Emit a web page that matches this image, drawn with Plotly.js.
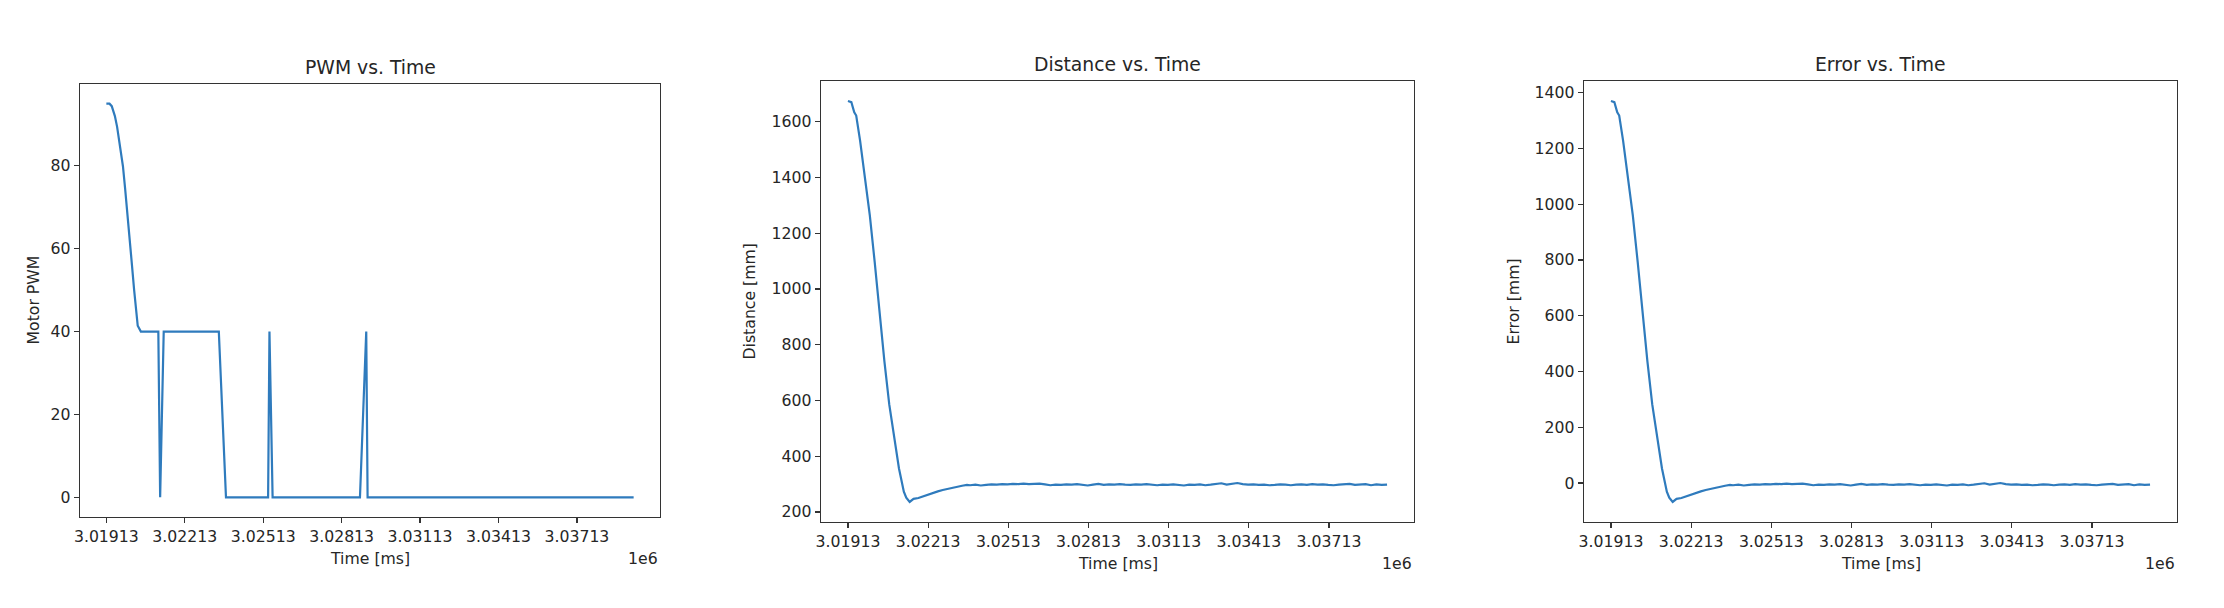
<!DOCTYPE html>
<html>
<head>
<meta charset="utf-8">
<script src="https://cdn.plot.ly/plotly-3.0.1.min.js"></script>
<style>
  html, body { margin: 0; padding: 0; background: #ffffff; }
  #chart { width: 2224px; height: 608px; }
</style>
</head>
<body>
<div id="chart"></div>
<script>
// ---------------- data ----------------
const pwmTime = [3019130, 3019250, 3019336, 3019456, 3019541, 3019650, 3019764, 3019850, 3019930, 3020021,
  3020110, 3020193, 3020270, 3020330, 3020450, 3020700, 3020950, 3021118, 3021187, 3021324,
  3021600, 3022000, 3022400, 3022800, 3023200, 3023432, 3023706, 3024200, 3024800, 3025317,
  3025369, 3025489, 3026000, 3027000, 3028000, 3028831, 3029071, 3029123, 3030000, 3032000,
  3034000, 3036000, 3038000, 3039300];
const pwmValues = [95, 95, 94.4, 92, 89.4, 85, 79.9, 74.3, 68, 62.2,
  56, 50, 45, 41.4, 40, 40, 40, 40, 0, 40,
  40, 40, 40, 40, 40, 40, 0, 0, 0, 0,
  40, 0, 0, 0, 0, 0, 40, 0, 0, 0,
  0, 0, 0, 0];

const sensorTime = [3019130, 3019257, 3019366, 3019439, 3019584, 3019766, 3019948, 3020130, 3020312, 3020494,
  3020675, 3020857, 3021039, 3021221, 3021312, 3021439, 3021584, 3021766, 3021948, 3022130,
  3022311, 3022493, 3022675, 3022857, 3023039, 3023220, 3023402, 3023584,
  3023700, 3023900, 3024100, 3024300, 3024500, 3024700, 3024900, 3025100, 3025300, 3025500,
  3025700, 3025900, 3026100, 3026300, 3026500, 3026700, 3026900, 3027100, 3027300, 3027500,
  3027700, 3027900, 3028100, 3028300, 3028500, 3028700, 3028900, 3029100, 3029300, 3029500,
  3029700, 3029900, 3030100, 3030300, 3030500, 3030700, 3030900, 3031100, 3031300, 3031500,
  3031700, 3031900, 3032100, 3032300, 3032500, 3032700, 3032900, 3033100, 3033300, 3033500,
  3033700, 3033900, 3034100, 3034300, 3034500, 3034700, 3034900, 3035100, 3035300, 3035500,
  3035700, 3035900, 3036100, 3036300, 3036500, 3036700, 3036900, 3037100, 3037300, 3037500,
  3037700, 3037900, 3038100, 3038300, 3038500, 3038700, 3038900, 3039100, 3039300];

const distanceValues = [1674, 1670, 1634, 1622, 1532, 1404, 1264, 1097, 906, 740,
  586, 471, 356, 273, 251, 236, 247, 250, 256, 262,
  270, 274, 279, 283, 288, 292, 294, 297,
  296, 298, 295, 297, 299, 298, 300, 299, 301, 300,
  302, 300, 301, 302, 299, 296, 298, 297, 299, 298,
  300, 297, 295, 298, 301, 297, 299, 298, 300, 298,
  297, 299, 298, 300, 297, 296, 298, 297, 299, 297,
  295, 298, 297, 299, 296, 298, 300, 303, 298, 300,
  304, 300, 298, 299, 297, 298, 296, 297, 299, 298,
  296, 298, 299, 297, 300, 298, 299, 297, 296, 298,
  300, 301, 297, 298, 300, 296, 299, 297, 298];

const errorValues = [1370, 1366, 1330, 1318, 1228, 1100, 960, 793, 602, 436,
  282, 167, 52, -31, -53, -68, -57, -54, -48, -42,
  -34, -30, -25, -21, -16, -12, -10, -7,
  -8, -6, -9, -7, -5, -6, -4, -5, -3, -4,
  -2, -4, -3, -2, -5, -8, -6, -7, -5, -6,
  -4, -7, -9, -6, -3, -7, -5, -6, -4, -6,
  -7, -5, -6, -4, -7, -8, -6, -7, -5, -7,
  -9, -6, -7, -5, -8, -6, -4, -1, -6, -4,
  0, -4, -6, -5, -7, -6, -8, -7, -5, -6,
  -8, -6, -5, -7, -4, -6, -5, -7, -8, -6,
  -4, -3, -7, -6, -4, -8, -5, -7, -6];

const xTickVals = [3019130, 3022130, 3025130, 3028130, 3031130, 3034130, 3037130];
const xTickText = ["3.01913", "3.02213", "3.02513", "3.02813", "3.03113", "3.03413", "3.03713"];
const pwmTicks = [0, 20, 40, 60, 80];
const distTicks = [200, 400, 600, 800, 1000, 1200, 1400, 1600];
const errTicks = [0, 200, 400, 600, 800, 1000, 1200, 1400];

const titles = ["PWM vs. Time", "Distance vs. Time", "Error vs. Time"];
const yLabels = ["Motor PWM", "Distance [mm]", "Error [mm]"];
const xLabel = "Time [ms]";
const offsetText = "1e6";

// ---------------- helpers ----------------
function padRange(arr) {
  let lo = Math.min(...arr), hi = Math.max(...arr);
  const p = (hi - lo) * 0.05;
  return [lo - p, hi + p];
}

const W = 2224, H = 608;
// frame boxes in pixels: [left, right, top, bottom]
const boxes = [
  [80, 660, 84, 517],
  [821, 1414, 81, 522],
  [1584, 2177, 81, 522]
];
const TXT = '#262626';
const FONT = 'DejaVu Sans, Verdana, sans-serif';
const LINE = '#2f7bbd';

const traces = [
  {x: pwmTime, y: pwmValues, xaxis: 'x', yaxis: 'y'},
  {x: sensorTime, y: distanceValues, xaxis: 'x2', yaxis: 'y2'},
  {x: sensorTime, y: errorValues, xaxis: 'x3', yaxis: 'y3'}
].map(t => Object.assign(t, {
  type: 'scatter', mode: 'lines',
  line: {color: LINE, width: 2.2},
  hoverinfo: 'skip', showlegend: false
}));

const layout = {
  width: W, height: H,
  margin: {l: 0, r: 0, t: 0, b: 0},
  paper_bgcolor: '#ffffff', plot_bgcolor: '#ffffff',
  font: {family: FONT, color: TXT, size: 15.7},
  showlegend: false,
  annotations: []
};

const yTickSets = [pwmTicks, distTicks, errTicks];
const yData = [pwmValues, distanceValues, errorValues];
const xData = [pwmTime, sensorTime, sensorTime];

boxes.forEach((b, i) => {
  const [l, r, t, bt] = b;
  const sfx = i === 0 ? '' : String(i + 1);
  const xa = {
    domain: [l / W, r / W],
    anchor: 'y' + sfx,
    range: padRange(xData[i]),
    tickmode: 'array', tickvals: xTickVals, ticktext: xTickText,
    ticks: 'outside', ticklen: 5, tickwidth: 1.2, tickcolor: '#333',
    showline: true, linecolor: '#333', linewidth: 1.3, mirror: true,
    showgrid: false, zeroline: false,
    tickfont: {family: FONT, size: 15.7, color: TXT},
    fixedrange: true
  };
  const ya = {
    domain: [1 - bt / H, 1 - t / H],
    anchor: 'x' + sfx,
    range: padRange(yData[i]),
    tickmode: 'array', tickvals: yTickSets[i],
    ticks: 'outside', ticklen: 5, tickwidth: 1.2, tickcolor: '#333',
    showline: true, linecolor: '#333', linewidth: 1.3, mirror: true,
    showgrid: false, zeroline: false,
    tickfont: {family: FONT, size: 15.7, color: TXT},
    fixedrange: true
  };
  layout['xaxis' + sfx] = xa;
  layout['yaxis' + sfx] = ya;

  const cx = (l + r) / 2;
  // plot title
  layout.annotations.push({
    xref: 'paper', yref: 'paper', x: cx / W, y: 1 - (t - 17) / H,
    xanchor: 'center', yanchor: 'middle', showarrow: false,
    text: titles[i], font: {family: FONT, size: 18.8, color: TXT}
  });
  // x label
  layout.annotations.push({
    xref: 'paper', yref: 'paper', x: cx / W, y: 1 - (bt + 41) / H,
    xanchor: 'center', yanchor: 'middle', showarrow: false,
    text: xLabel, font: {family: FONT, size: 15.7, color: TXT}
  });
  // offset text
  layout.annotations.push({
    xref: 'paper', yref: 'paper', x: r / W, y: 1 - (bt + 41) / H,
    xanchor: 'right', yanchor: 'middle', showarrow: false,
    text: offsetText, font: {family: FONT, size: 15.7, color: TXT}
  });
});

// y labels
const yLabelX = [33, 749, 1513];
boxes.forEach((b, i) => {
  layout.annotations.push({
    xref: 'paper', yref: 'paper', x: yLabelX[i] / W, y: 1 - ((b[2] + b[3]) / 2) / H,
    xanchor: 'center', yanchor: 'middle', showarrow: false, textangle: -90,
    text: yLabels[i], font: {family: FONT, size: 15.7, color: TXT}
  });
});

Plotly.newPlot('chart', traces, layout, {staticPlot: true, displayModeBar: false});
</script>
</body>
</html>
